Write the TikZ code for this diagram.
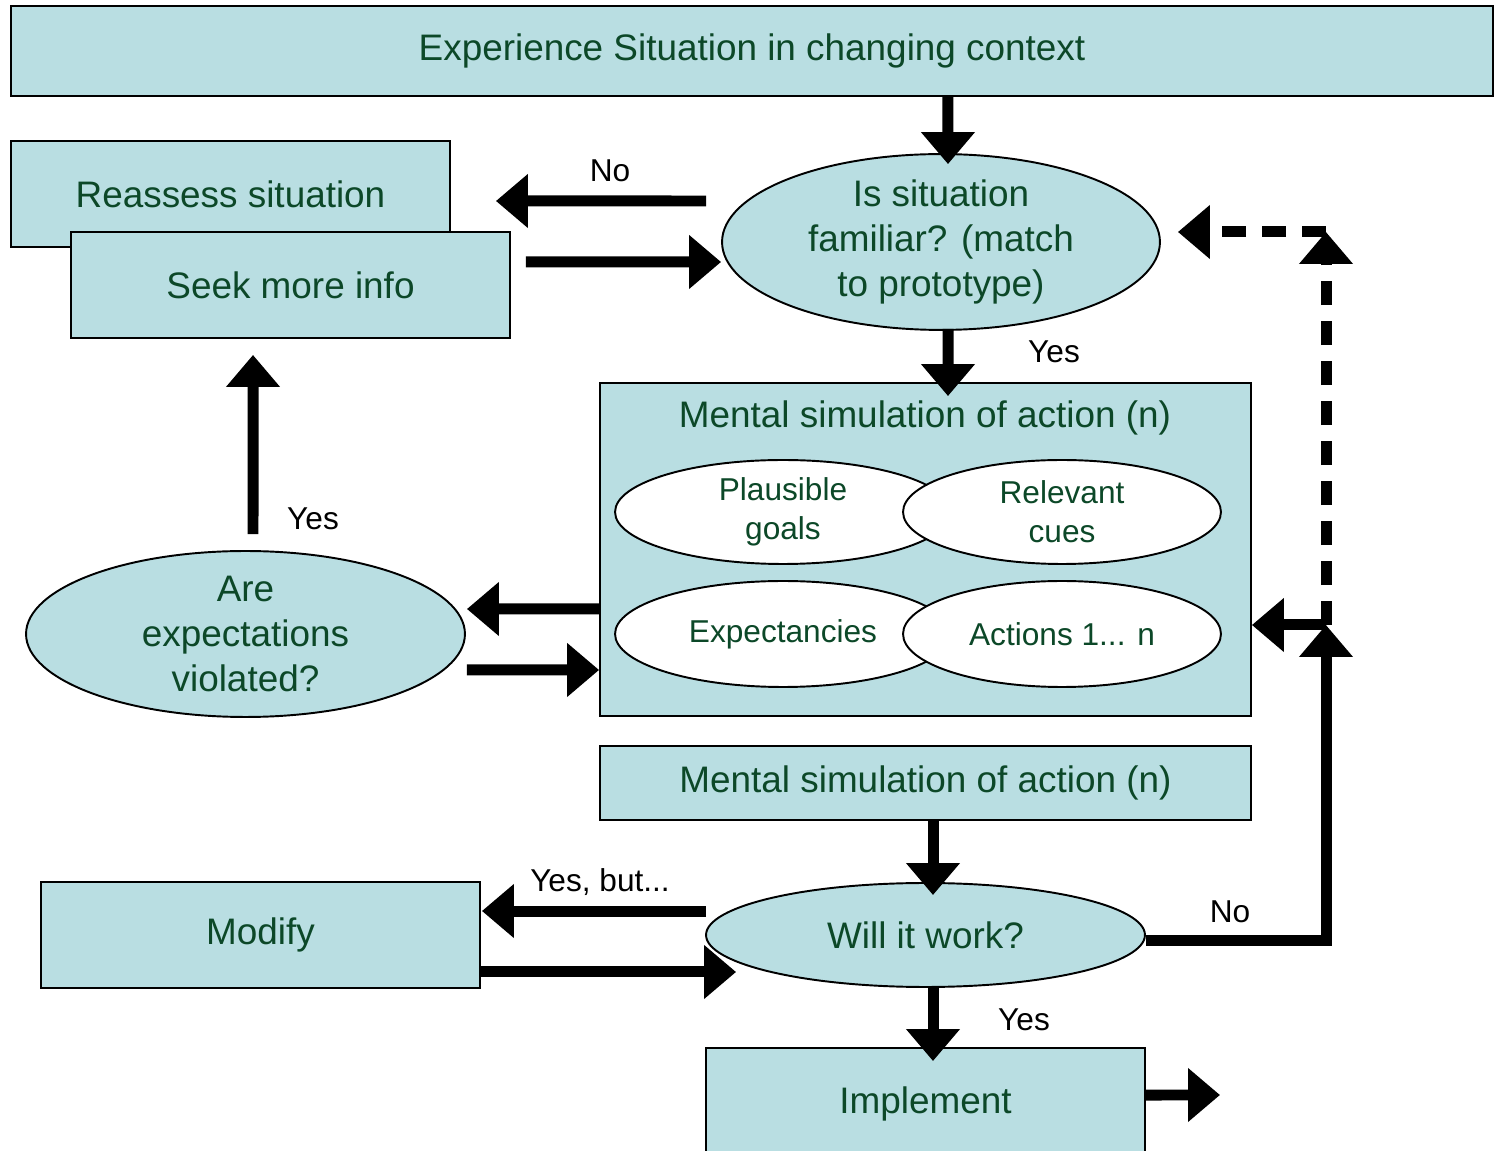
\documentclass[tikz,border=0pt]{standalone}
\usepackage{fontspec}
\setmainfont{Liberation Sans}
\usetikzlibrary{arrows.meta,shapes.geometric}
\definecolor{boxfill}{RGB}{185,222,226}
\definecolor{txtgreen}{RGB}{12,72,40}
\begin{document}
\begin{tikzpicture}[x=0.02cm,y=-0.02cm,
  box/.style={draw=black, line width=1.1pt, fill=boxfill, text=txtgreen,
    font=\fontsize{21pt}{25.6pt}\selectfont, align=center, inner sep=0pt},
  oval/.style={ellipse, draw=black, line width=1.1pt, fill=boxfill, text=txtgreen,
    font=\fontsize{21pt}{25.6pt}\selectfont, align=center, inner sep=0pt},
  woval/.style={oval, fill=white, font=\fontsize{18pt}{22.2pt}\selectfont},
  lbl/.style={font=\fontsize{18pt}{21pt}\selectfont, text=black, inner sep=0pt},
  ttl/.style={text=txtgreen, font=\fontsize{21pt}{25.6pt}\selectfont, inner sep=0pt},
  arr/.style={line width=0.22cm, line join=miter, -{Triangle[length=0.64cm,width=1.04cm]}},
  dashline/.style={dash pattern=on 0.48cm off 0.32cm}
]
\useasboundingbox (0,0) rectangle (1499,1151);

% nodes
\node[box, minimum width=29.64cm, minimum height=1.8cm] (top) at (752,51) {Experience Situation in changing context};
\node[box, minimum width=8.78cm, minimum height=2.12cm] (reassess) at (230.5,194) {Reassess situation};
\node[box, minimum width=8.78cm, minimum height=2.12cm] (seek) at (290.5,285) {Seek more info};
\node[oval, minimum width=8.76cm, minimum height=3.32cm] (fam) at (941,242) {Is situation\\familiar? (match\\to prototype)};

\node[box, minimum width=13.02cm, minimum height=6.66cm] (msbox) at (925.5,549.5) {};
\node[ttl] (mstitle) at (925,418) {Mental simulation of action (n)};
\node[woval, minimum width=6.72cm, minimum height=2.08cm] (pg) at (783,512) {Plausible\\goals};
\node[woval, minimum width=6.36cm, minimum height=2.08cm] (rc) at (1062,512) {Relevant\\cues};
\node[woval, minimum width=6.72cm, minimum height=2.12cm] (ex) at (783,634) {Expectancies};
\node[woval, minimum width=6.36cm, minimum height=2.12cm] (ac) at (1062,634) {Actions 1... n};

\node[oval, minimum width=8.78cm, minimum height=3.32cm] (are) at (245.5,634) {Are\\expectations\\violated?};

\node[box, minimum width=13.02cm, minimum height=1.48cm] (ms2) at (925.5,783) {Mental simulation of action (n)};
\node[oval, minimum width=8.78cm, minimum height=2.08cm] (will) at (925.5,935) {Will it work?};
\node[box, minimum width=8.78cm, minimum height=2.12cm] (modify) at (260.5,935) {Modify};
\node[box, minimum width=8.78cm, minimum height=2.24cm] (impl) at (925.5,1104) {Implement};

% labels
\node[lbl] (lno1) at (610,171) {No};
\node[lbl] (lyes1) at (1054,352) {Yes};
\node[lbl] (lyes2) at (313,519) {Yes};
\node[lbl] (lyesbut) at (600,882) {Yes, but...};
\node[lbl] (lno2) at (1230,912) {No};
\node[lbl] (lyes3) at (1024,1020) {Yes};

% helper coordinates
\coordinate (J) at (1326,625);
\coordinate (K) at (1326,232);
\coordinate (out) at (1220,1095);

% connectors
\draw[arr] ([xshift=3.92cm]top.south) -- ([xshift=0.14cm,yshift=-0.22cm]fam.north);
\draw[arr] ([shift={(-0.3cm,0.82cm)}]fam.west) -- ([shift={(0.9cm,-0.14cm)}]reassess.east);
\draw[arr] ([shift={(0.3cm,0.46cm)}]seek.east) -- ([yshift=-0.40cm]fam.west);
\draw[arr] ([xshift=0.14cm,yshift=0.04cm]fam.south) -- ([shift={(0.45cm,-0.28cm)}]msbox.north);
\draw[arr] ([yshift=-1.19cm]msbox.west) -- ([shift={(0.02cm,0.5cm)}]are.east);
\draw[arr] ([shift={(0.02cm,-0.72cm)}]are.east) -- ([yshift=-2.41cm]msbox.west);
\draw[arr] ([shift={(0.15cm,0.32cm)}]are.north) -- ([shift={(-0.75cm,-0.32cm)}]seek.south);
\draw[arr] ([xshift=0.15cm]ms2.south) -- ([shift={(0.15cm,-0.26cm)}]will.north);
\draw[arr] ([shift={(0.02cm,0.48cm)}]will.west) -- ([shift={(0.02cm,0.48cm)}]modify.east);
\draw[arr] ([yshift=-0.74cm]modify.east) -- ([shift={(0.62cm,-0.74cm)}]will.west);
\draw[arr] ([yshift=-0.12cm]will.east) -| (J);
\draw[arr] (J) -- (J -| msbox.east);
\draw[arr, dashline] (J) -- (K);
\draw[arr, dashline, shorten >=0.34cm] (K) -- (K -| fam.east);
\draw[arr] ([yshift=0.18cm]impl.east) -- (out);
\draw[arr] ([xshift=0.15cm]will.south) -- ([shift={(0.15cm,-0.28cm)}]impl.north);
\end{tikzpicture}
\end{document}
